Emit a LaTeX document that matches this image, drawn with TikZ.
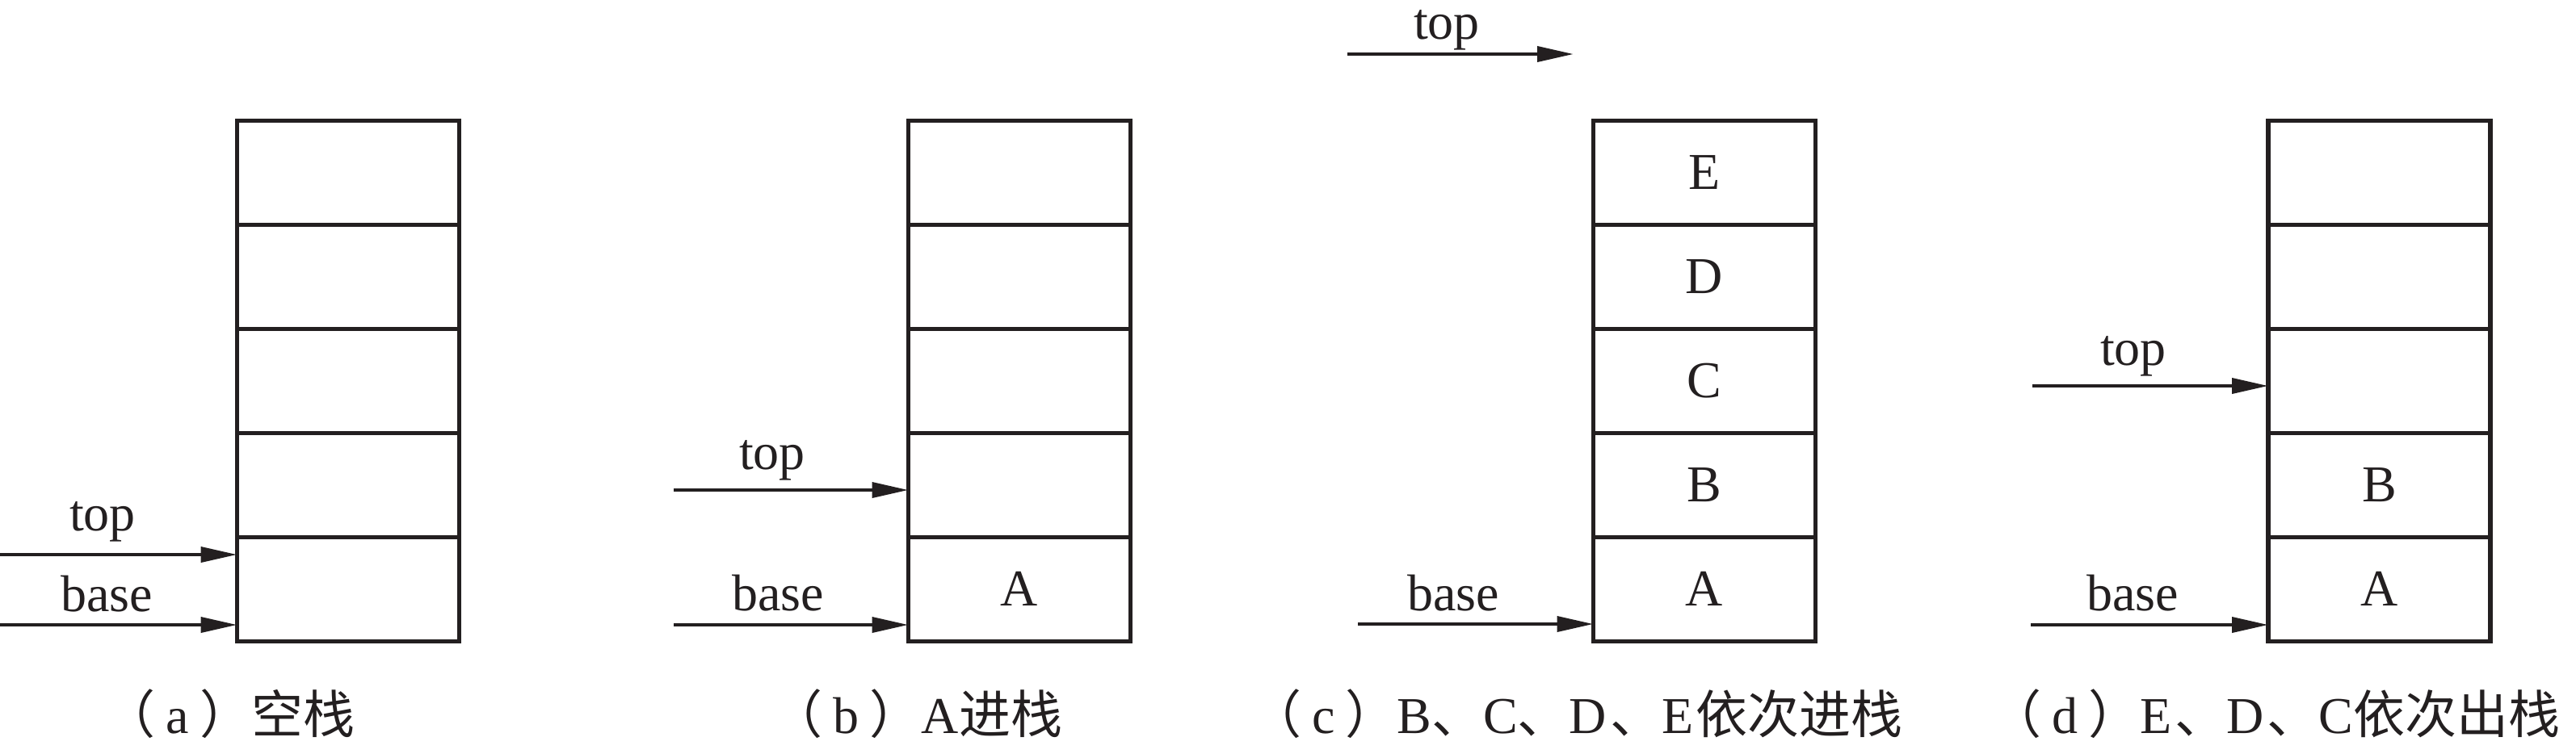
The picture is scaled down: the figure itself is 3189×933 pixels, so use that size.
\documentclass[tikz,border=0pt]{standalone}
\usepackage{fontspec}
\setmainfont{Liberation Serif}
\newfontfamily\cjk{Noto Sans CJK SC}
\usetikzlibrary{arrows.meta}
\definecolor{ink}{RGB}{35,31,32}
\newcommand{\lpar}{{\cjk （}\kern3.25pt}
\newcommand{\rpar}{\kern3.25pt{\cjk ）}}
\begin{document}
\begin{tikzpicture}[x=0.25pt,y=-0.25pt,
  cell/.style={draw=ink, line width=1.3pt, minimum width=68.75pt, minimum height=32.25pt,
    inner sep=0pt, outer sep=0pt, font=\fontsize{16}{19}\selectfont, text=ink},
  ptr/.style={draw=ink, line width=1.1pt, -{Triangle[length=11.25pt,width=4.7pt]}},
  lbl/.style={anchor=base, inner sep=0pt, font=\fontsize{16}{19}\selectfont, text=ink},
  captxt/.style={anchor=base east, inner sep=0pt, font=\fontsize{16}{19}\selectfont, text=ink}]
\path[use as bounding box] (0,0) rectangle (3189,933);

% ---- (a) empty stack
\node[cell] (a1) at (431,213.75) {};
\node[cell] (a2) at (431,342.75) {};
\node[cell] (a3) at (431,471.75) {};
\node[cell] (a4) at (431,600.75) {};
\node[cell] (a5) at (431,729.75) {};
\coordinate (aT) at (-4,687);
\coordinate (aB) at (-4,774);
\draw[ptr] (aT) -- (aT -| a5.west);
\draw[ptr] (aB) -- (aB -| a5.west);
\node[lbl] (ta) at (127,657) {top};
\node[lbl] (ba) at (132,757) {base};
\node[captxt] (capa) at (440,908) {\lpar a\rpar{\cjk 空栈}};

% ---- (b) A pushed
\node[cell] (b1) at (1262,213.75) {};
\node[cell] (b2) at (1262,342.75) {};
\node[cell] (b3) at (1262,471.75) {};
\node[cell] (b4) at (1262,600.75) {};
\node[cell] (b5) at (1262,729.75) {A};
\coordinate (bT) at (834,607);
\coordinate (bB) at (834,774);
\draw[ptr] (bT) -- (bT -| b4.west);
\draw[ptr] (bB) -- (bB -| b5.west);
\node[lbl] (tb) at (956,581) {top};
\node[lbl] (bb) at (963,756) {base};
\node[captxt] (capb) at (1316,908) {\lpar b\rpar A{\cjk 进栈}};

% ---- (c) B, C, D, E pushed
\node[cell] (c1) at (2110,213.75) {E};
\node[cell] (c2) at (2110,342.75) {D};
\node[cell] (c3) at (2110,471.75) {C};
\node[cell] (c4) at (2110,600.75) {B};
\node[cell] (c5) at (2110,729.75) {A};
\coordinate (cT) at (1668,67);
\coordinate (cTe) at (1948,67);
\coordinate (cB) at (1681,773);
\draw[ptr] (cT) -- (cTe);
\draw[ptr] (cB) -- (cB -| c5.west);
\node[lbl] (tc) at (1791,48) {top};
\node[lbl] (bc) at (1799,756) {base};
\node[captxt] (capc) at (2356,908) {\lpar c\rpar B{\cjk 、}C{\cjk 、}D\kern1pt{\cjk 、}E\kern0.75pt{\cjk 依次进栈}};

% ---- (d) E, D, C popped
\node[cell] (d1) at (2945.5,213.75) {};
\node[cell] (d2) at (2945.5,342.75) {};
\node[cell] (d3) at (2945.5,471.75) {};
\node[cell] (d4) at (2945.5,600.75) {B};
\node[cell] (d5) at (2945.5,729.75) {A};
\coordinate (dT) at (2516,478);
\coordinate (dB) at (2514,774);
\draw[ptr] (dT) -- (dT -| d3.west);
\draw[ptr] (dB) -- (dB -| d5.west);
\node[lbl] (td) at (2641,452) {top};
\node[lbl] (bd) at (2640,756) {base};
\node[captxt] (capd) at (3170,908) {\lpar d\rpar E\kern1pt{\cjk 、}D\kern1pt{\cjk 、}C{\cjk 依次出栈}};
\end{tikzpicture}
\end{document}
